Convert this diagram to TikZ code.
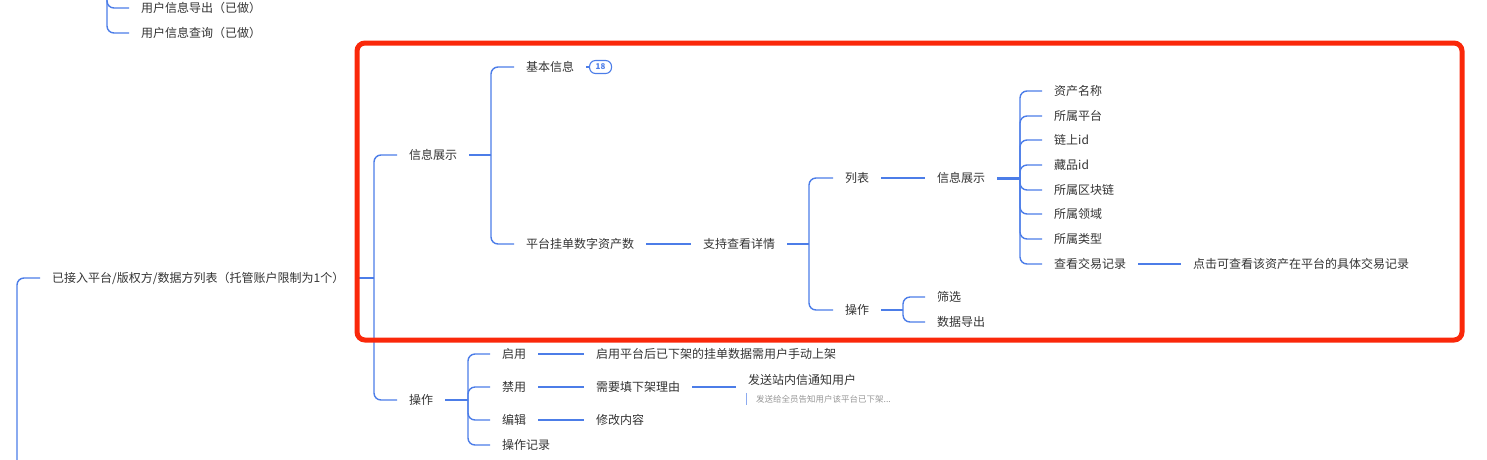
\documentclass[tikz,border=0pt]{standalone}
\usepackage{fontspec}
\newfontfamily\cjk{Noto Sans CJK SC}
\usetikzlibrary{positioning}
\definecolor{mapblue}{RGB}{76,125,232}
\definecolor{maptext}{RGB}{51,51,51}
\definecolor{markred}{RGB}{250,40,10}
\definecolor{notegray}{RGB}{150,150,150}
\definecolor{notebar}{RGB}{140,170,240}
\tikzset{
	topic/.style={anchor=west, inner xsep=12pt, inner ysep=3pt, text=maptext, font=\cjk\fontsize{12}{14}\selectfont},
	notetext/.style={anchor=west, inner xsep=0pt, inner ysep=2pt, text=notegray, font=\cjk\fontsize{8.5}{10}\selectfont},
	badge/.style={anchor=west, draw=mapblue, line width=1.1pt, rounded corners=6pt, minimum width=22pt, minimum height=13pt, inner sep=0pt, text=mapblue, font=\cjk\bfseries\fontsize{8}{9}\selectfont},
	branch/.style={draw=mapblue, line width=1.4pt, rounded corners=7pt},
	trunk/.style={draw=mapblue, line width=3pt},
	markbox/.style={draw=markred, line width=5pt, rounded corners=8pt}
}

\begin{document}
\begin{tikzpicture}[x=1pt, y=-1pt]
	\useasboundingbox (0,0) rectangle (1487,459);

	% user info, top
	\node(dc) [topic] at (129,8)		{用户信息导出（已做）};
	\node(cx) [topic] at (129,33)		{用户信息查询（已做）};
	\coordinate(jtop) at (107,-30);

	% platform list
	\node(main) [topic] at (40,278)		{已接入平台/版权方/数据方列表（托管账户限制为1个）};
	\coordinate(jleft) at (17,490);
	\coordinate(j1) at (374,278);

	\node(xxzs) [topic] at (397,155)	{信息展示};
	\node(cza) [topic] at (397,400)		{操作};
	\coordinate(j2) at (491,155);

	\node(jbxx) [topic] at (514,67)		{基本信息};
	\node(num) [badge] at (589,67)		{18};
	\node(ptgd) [topic] at (514,244)	{平台挂单数字资产数};
	\node(zcxq) [topic] at (691,244)	{支持查看详情};
	\coordinate(j3) at (809,244);

	\node(lb) [topic] at (833,178)		{列表};
	\node(czb) [topic] at (833,310)		{操作};
	\node(xxzsb) [topic] at (925,178)	{信息展示};
	\coordinate(j4) at (1020,178);
	\node(sx) [topic] at (925,297)		{筛选};
	\node(sjdc) [topic] at (925,322)	{数据导出};
	\coordinate(j5) at (903,310);

	\node(zcmc) [topic] at (1042,91)	{资产名称};
	\node(sspt) [topic] at (1042,116)	{所属平台};
	\node(lsid) [topic] at (1042,140)	{链上id};
	\node(cpid) [topic] at (1042,165)	{藏品id};
	\node(ssqk) [topic] at (1042,190)	{所属区块链};
	\node(ssly) [topic] at (1042,214)	{所属领域};
	\node(sslx) [topic] at (1042,239)	{所属类型};
	\node(jyjl) [topic] at (1042,264)	{查看交易记录};
	\node(djck) [topic] at (1181,264)	{点击可查看该资产在平台的具体交易记录};

	% operations
	\coordinate(j6) at (468,400);
	\node(qy) [topic] at (490,354)		{启用};
	\node(jy) [topic] at (490,387)		{禁用};
	\node(bj) [topic] at (490,420)		{编辑};
	\node(czjl) [topic] at (490,445)	{操作记录};
	\node(qysm) [topic] at (584,354)	{启用平台后已下架的挂单数据需用户手动上架};
	\node(xyly) [topic] at (584,387)	{需要填下架理由};
	\node(bjnr) [topic] at (584,420)	{修改内容};
	\node(fstz) [topic] at (736,380)	{发送站内信通知用户};
	\node(note) [notetext] at (756,399)	{发送给全员告知用户该平台已下架...};

	\draw[branch](jtop) |- (dc.west);
	\draw[branch](jtop) |- (cx.west);
	\draw[branch](jleft) |- (main.west);

	\draw[branch](main.east) -- (j1);
	\draw[branch](j1) |- (xxzs.west);
	\draw[branch](j1) |- (cza.west);

	\draw[branch](xxzs.east) -- (j2);
	\draw[branch](j2) |- (jbxx.west);
	\draw[branch](j2) |- (ptgd.west);
	\draw[branch](jbxx.east) -- (num.west);
	\draw[branch](ptgd.east) -- (zcxq.west);
	\draw[branch](zcxq.east) -- (j3);
	\draw[branch](j3) |- (lb.west);
	\draw[branch](j3) |- (czb.west);

	\draw[branch](lb.east) -- (xxzsb.west);
	\draw[trunk](xxzsb.east) -- (j4);
	\draw[branch](j4) |- (zcmc.west);
	\draw[branch](j4) |- (sspt.west);
	\draw[branch](j4) |- (lsid.west);
	\draw[branch](j4) |- (cpid.west);
	\draw[branch](j4) |- (ssqk.west);
	\draw[branch](j4) |- (ssly.west);
	\draw[branch](j4) |- (sslx.west);
	\draw[branch](j4) |- (jyjl.west);
	\draw[branch](jyjl.east) -- (djck.west);

	\draw[branch](czb.east) -- (j5);
	\draw[branch](j5) |- (sx.west);
	\draw[branch](j5) |- (sjdc.west);

	\draw[branch](cza.east) -- (j6);
	\draw[branch](j6) |- (qy.west);
	\draw[branch](j6) |- (jy.west);
	\draw[branch](j6) |- (bj.west);
	\draw[branch](j6) |- (czjl.west);
	\draw[branch](qy.east) -- (qysm.west);
	\draw[branch](jy.east) -- (xyly.west);
	\draw[branch](bj.east) -- (bjnr.west);
	\draw[branch](xyly.east) -- (xyly.east -| fstz.west);
	\draw[notebar, line width=1pt]([xshift=-10pt]note.north west) -- ([xshift=-10pt]note.south west);

	% highlight
	\draw[markbox] (357,43) rectangle (1462,340);
\end{tikzpicture}
\end{document}
